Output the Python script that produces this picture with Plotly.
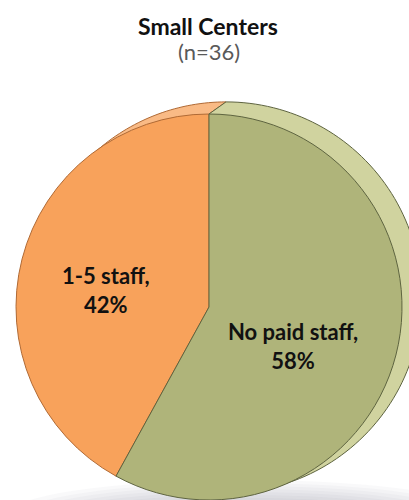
import numpy as np
import plotly.graph_objects as go

# Staff size distribution of small centers
labels = ["1-5 staff", "No paid staff"]
values = [42, 58]
title_text = "Small Centers"
subtitle_text = "(n=36)"

W, H = 409, 500

front_colors = ["#F8A25B", "#AFB47A"]
rim_colors = ["#F9BA85", "#D0D39F"]
edge_colors = ["#B06A35", "#5E6440"]

# Geometry of the disc (pixels): front face and the back face seen behind it
FX, FY, FR = 209.0, 307.0, 193.0
BX, BY, BR = 226.0, 297.4, 195.5

# where each slice label sits (pixels)
label_pos = [(105.5, 290.0), (293.0, 346.0)]


def px(x, y):
    return x / W, 1 - y / H


def arc_points(cx, cy, r, a0, a1, n=120):
    ang = np.radians(np.linspace(a0, a1, n))
    return [(cx + r * np.sin(a), cy - r * np.cos(a)) for a in ang]


def path_from(points):
    pts = [px(x, y) for x, y in points]
    d = "M {:.5f},{:.5f} ".format(*pts[0])
    d += " ".join("L {:.5f},{:.5f}".format(*p) for p in pts[1:])
    return d + " Z"


fracs = np.array(values, dtype=float) / sum(values)
split = fracs[0] * 360.0  # extent of the first slice, which ends at 12 o'clock

front_top = (FX, FY - FR)

shapes = []

# soft ground shadow under the disc
for k in range(8):
    rx = 240 - k * 13
    ry = 36 - k * 3.0
    cx, cy = 245, 516
    x0, y0 = px(cx - rx, cy - ry)
    x1, y1 = px(cx + rx, cy + ry)
    shapes.append(dict(type="circle", xref="paper", yref="paper",
                       x0=x0, x1=x1, y0=y1, y1=y0, layer="below",
                       fillcolor="rgba(90,90,100,0.035)", line_width=0))

# back face: first slice
back_first = [(BX, BY)] + arc_points(BX, BY, BR, -split, 0) + [front_top]
shapes.append(dict(type="path", xref="paper", yref="paper", layer="below",
                   path=path_from(back_first), fillcolor=rim_colors[0],
                   line=dict(color=edge_colors[0], width=1)))
# back face: second slice, including the rim wedge at the top joint
back_second = [(BX, BY), front_top] + arc_points(BX, BY, BR, 0, 360 - split)
shapes.append(dict(type="path", xref="paper", yref="paper", layer="below",
                   path=path_from(back_second), fillcolor=rim_colors[1],
                   line=dict(color=edge_colors[1], width=1)))

fx0, fy1 = px(FX - FR, FY - FR)
fx1, fy0 = px(FX + FR, FY + FR)

fig = go.Figure()
fig.add_trace(go.Pie(
    labels=labels,
    values=values,
    sort=False,
    direction="clockwise",
    rotation=360 - split,
    domain=dict(x=[fx0, fx1], y=[max(fy0, 0), fy1]),
    marker=dict(colors=front_colors, line=dict(color=edge_colors, width=1)),
    textinfo="none",
    hoverinfo="label+percent",
    showlegend=False,
))

annotations = [
    dict(text=title_text, x=208 / W, y=1 - 26 / H, xref="paper", yref="paper",
         xanchor="center", yanchor="middle", showarrow=False,
         font=dict(family="Lato", size=23, color="#111111", weight=700)),
    dict(text=subtitle_text, x=208.5 / W, y=1 - 52 / H, xref="paper", yref="paper",
         xanchor="center", yanchor="middle", showarrow=False,
         font=dict(family="Lato", size=22, color="#595959")),
]
total = sum(values)
for lab, val, (lx, ly) in zip(labels, values, label_pos):
    pct = round(100 * val / total)
    x, y = px(lx, ly)
    annotations.append(dict(
        text=f"{lab},<br>{pct}%", x=x, y=y, xref="paper", yref="paper",
        xanchor="center", yanchor="middle", showarrow=False, align="center",
        font=dict(family="Lato", size=22, color="#111111", weight=700)))

fig.update_layout(
    width=W, height=H,
    margin=dict(l=0, r=0, t=0, b=0),
    paper_bgcolor="white",
    plot_bgcolor="white",
    shapes=shapes,
    annotations=annotations,
)

fig.write_html("out.html")
